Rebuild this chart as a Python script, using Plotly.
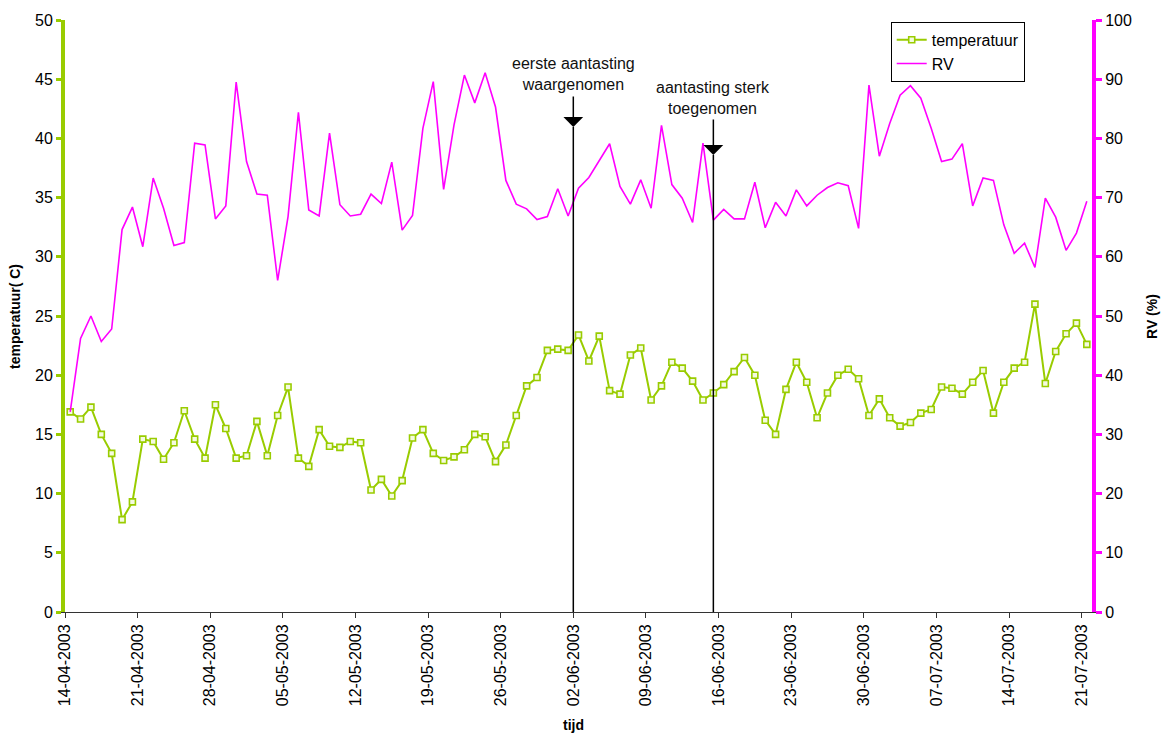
import pandas as pd
import plotly.graph_objects as go

# ---- data ----
start_day = "2003-04-14 12:00"
n_days = 99
dates = pd.date_range(start_day, periods=n_days, freq="D")

temperatuur = [16.9, 16.3, 17.3, 15.0, 13.4, 7.8, 9.3, 14.6, 14.4, 12.9,
               14.3, 17.0, 14.6, 13.0, 17.5, 15.5, 13.0, 13.2, 16.1, 13.2,
               16.6, 19.0, 13.0, 12.3, 15.4, 14.0, 13.9, 14.4, 14.3, 10.3,
               11.2, 9.8, 11.1, 14.7, 15.4, 13.4, 12.8, 13.1, 13.7, 15.0,
               14.8, 12.7, 14.1, 16.6, 19.1, 19.8, 22.1, 22.2, 22.1, 23.4,
               21.2, 23.3, 18.7, 18.4, 21.7, 22.3, 17.9, 19.1, 21.1, 20.6,
               19.5, 17.9, 18.5, 19.2, 20.3, 21.5, 20.0, 16.2, 15.0, 18.8,
               21.1, 19.4, 16.4, 18.5, 20.0, 20.5, 19.7, 16.6, 18.0, 16.4,
               15.7, 16.0, 16.8, 17.1, 19.0, 18.9, 18.4, 19.4, 20.4, 16.8,
               19.4, 20.6, 21.1, 26.0, 19.3, 22.0, 23.5, 24.4, 22.6]

rv = [33.8, 46.2, 50.0, 45.7, 47.8,
      64.6, 68.4, 61.7, 73.3, 68.2, 61.9, 62.4, 79.2, 78.9, 66.4,
      68.6, 89.5, 76.1, 70.6, 70.4, 56.0, 66.8, 84.4, 67.9, 66.9,
      80.9, 68.8, 66.9, 67.2,
      70.6, 69.0, 76.0, 64.5, 67.0, 81.7, 89.6, 71.4, 82.3, 90.7,
      86.0, 91.1, 85.3, 72.9, 68.9, 68.1, 66.3, 66.8, 71.5, 66.9,
      71.6, 73.4, 76.2, 79.1, 71.9, 68.9, 73.0,
      68.2, 82.2, 72.2, 69.9, 65.8, 79.2, 66.2, 68.0, 66.4, 66.4,
      72.6, 64.9, 69.2, 66.9, 71.3, 68.6, 70.4, 71.7, 72.5, 72.0,
      64.8, 89.0, 77.0, 82.5, 87.3, 88.9, 86.8,
      81.7, 76.1, 76.5, 79.1, 68.6, 73.3, 72.9, 65.4, 60.6, 62.3,
      58.2, 69.9, 66.7, 61.1, 64.0, 69.4]

tick_dates = pd.date_range("2003-04-14", "2003-07-21", freq="7D")
x_range = ["2003-04-14", "2003-07-22"]

event_labels = ["eerste aantasting<br>waargenomen", "aantasting sterk<br>toegenomen"]
event_dates = ["2003-06-02 00:00", "2003-06-15 12:00"]

GREEN = "#99CC00"
MAGENTA = "#FF00FF"
FONT = "Liberation Sans, Arial, sans-serif"

fig = go.Figure()
fig.add_trace(go.Scatter(
    x=dates, y=temperatuur, name="temperatuur", mode="lines+markers",
    line=dict(color=GREEN, width=2),
    marker=dict(symbol="square", size=6, color="#F4FAE0",
                line=dict(color=GREEN, width=1.6)),
    yaxis="y"))
fig.add_trace(go.Scatter(
    x=dates, y=rv, name="RV", mode="lines",
    line=dict(color=MAGENTA, width=1.6),
    yaxis="y2"))

# event arrows + lines
tips = [0.8193, 0.772]
tails = [32, 37]
text_y = [0.9096, 0.868]
for lab, d, tip, tl, ty in zip(event_labels, event_dates, tips, tails, text_y):
    fig.add_shape(type="line", xref="x", yref="paper", x0=d, x1=d, y0=0, y1=tip,
                  line=dict(color="black", width=1.5))
    fig.add_annotation(x=d, y=tip, xref="x", yref="paper", text="",
                       showarrow=True, ax=0, ay=-tl, arrowhead=1, arrowsize=2.2,
                       arrowwidth=1.5, arrowcolor="black")
    fig.add_annotation(x=d, y=ty, xref="x", yref="paper", text=lab,
                       showarrow=False, font=dict(size=16, color="#111111", family=FONT),
                       xanchor="center", yanchor="middle", align="center")

# axis titles
fig.add_annotation(x=-0.0487, y=0.5, xref="paper", yref="paper",
                   text="<b>temperatuur( C)</b>", textangle=-90, showarrow=False,
                   xanchor="center", yanchor="middle",
                   font=dict(size=14, color="black", family=FONT))
fig.add_annotation(x=1.0584, y=0.5, xref="paper", yref="paper",
                   text="<b>RV (%)</b>", textangle=-90, showarrow=False,
                   xanchor="center", yanchor="middle",
                   font=dict(size=14, color="black", family=FONT))
fig.add_annotation(x=0.4947, y=-0.191, xref="paper", yref="paper",
                   text="<b>tijd</b>", showarrow=False,
                   xanchor="center", yanchor="middle",
                   font=dict(size=14, color="black", family=FONT))

fig.update_layout(
    width=1166, height=737,
    margin=dict(l=65, r=74, t=20, b=125, autoexpand=False),
    plot_bgcolor="white", paper_bgcolor="white",
    font=dict(family=FONT, size=16, color="black"),
    showlegend=True,
    legend=dict(x=0.804, y=0.997, xanchor="left", yanchor="top",
                bgcolor="white", bordercolor="black", borderwidth=1,
                font=dict(size=16, family=FONT), tracegroupgap=0,
                itemwidth=30),
    xaxis=dict(type="date", range=x_range, tickvals=tick_dates,
               tickformat="%d-%m-%Y", tickangle=-90,
               showgrid=False, zeroline=False,
               showline=True, linecolor="#333333", linewidth=1,
               ticks="outside", ticklen=5, tickcolor="#333333",
               tickfont=dict(size=16, family=FONT), automargin=False),
    yaxis=dict(range=[0, 50], tickvals=list(range(0, 51, 5)),
               showgrid=False, zeroline=False,
               showline=True, linecolor=GREEN, linewidth=4,
               ticks="outside", ticklen=5, tickwidth=3, tickcolor=GREEN,
               tickfont=dict(size=16, family=FONT), automargin=False),
    yaxis2=dict(range=[0, 100], tickvals=list(range(0, 101, 10)),
                overlaying="y", side="right",
                showgrid=False, zeroline=False,
                showline=True, linecolor=MAGENTA, linewidth=4,
                ticks="outside", ticklen=6, tickwidth=3, tickcolor=MAGENTA,
                tickfont=dict(size=16, family=FONT), automargin=False),
)

fig.write_html("out.html")
